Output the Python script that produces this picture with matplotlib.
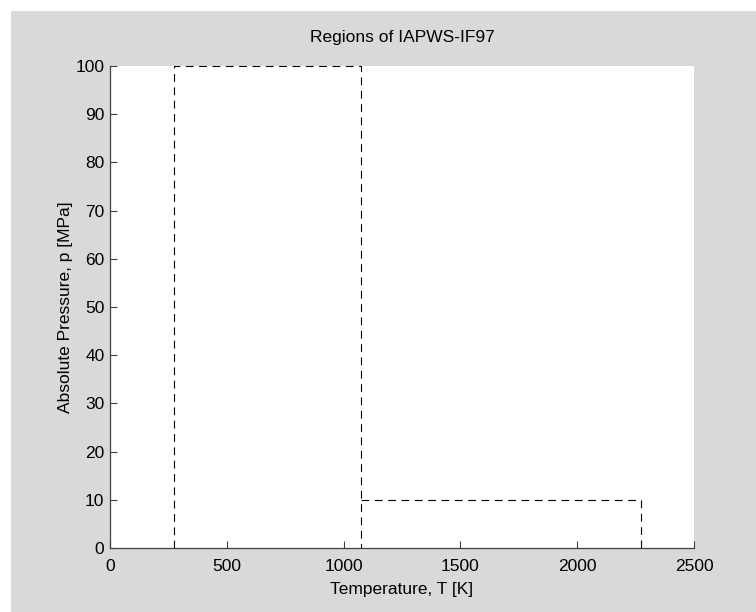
"""
Regions of IAPWS-IF97 drawn in the old MATLAB figure style.

Region boundaries are kept as small lists of temperatures and pressures.
"""

import matplotlib

matplotlib.use("Agg")

import matplotlib.pyplot as plt
from matplotlib.patches import Rectangle

# region 1-3 envelope (273.15 K .. 1073.15 K, up to 100 MPa)
envelope_t_k = [273.15, 273.15, 1073.15, 1073.15]
envelope_p_mpa = [0.0, 100.0, 100.0, 0.0]

# region 5 (1073.15 K .. 2273.15 K, up to 10 MPa)
region5_t_k = [1073.15, 2273.15, 2273.15]
region5_p_mpa = [10.0, 10.0, 0.0]

x_ticks = [0, 500, 1000, 1500, 2000, 2500]
y_ticks = [0, 10, 20, 30, 40, 50, 60, 70, 80, 90, 100]

FIG_W, FIG_H = 756, 612
DPI = 100
BG_GRAY = "#d9d9d9"
AXIS_GRAY = "#404040"

RC_PARAMS = {
    "font.family": ["Liberation Sans", "DejaVu Sans"],
    "font.size": 12.5,
    "axes.spines.top": False,
    "axes.spines.right": False,
    "xtick.direction": "in",
    "ytick.direction": "in",
}


def plot_regions(save_path="out.png"):
    """Draw the region boundaries and save the figure."""
    with plt.rc_context(RC_PARAMS):
        fig = plt.figure(figsize=(FIG_W / DPI, FIG_H / DPI), dpi=DPI)
        fig.patch.set_facecolor("white")
        # gray canvas with the thin white strip on top and left
        fig.patches.append(
            Rectangle(
                (11 / FIG_W, 0.0), 1.0, (FIG_H - 11) / FIG_H,
                transform=fig.transFigure, facecolor=BG_GRAY,
                edgecolor="none", zorder=-10,
            )
        )

        ax = fig.add_axes([110 / FIG_W, 64 / FIG_H, 584 / FIG_W, 482 / FIG_H])
        ax.set_facecolor("white")

        style = dict(color="black", lw=0.8, ls=(0, (7, 5)), clip_on=False)
        ax.plot(envelope_t_k, envelope_p_mpa, **style)
        ax.plot(region5_t_k, region5_p_mpa, **style)

        ax.set_xlim(0, 2500)
        ax.set_ylim(0, 100)
        ax.set_xticks(x_ticks)
        ax.set_yticks(y_ticks)
        ax.tick_params(length=5, width=0.8, color=AXIS_GRAY, labelcolor="black")
        ax.tick_params(axis="x", pad=8)
        ax.tick_params(axis="y", pad=4)
        for side in ("left", "bottom"):
            ax.spines[side].set_color(AXIS_GRAY)
            ax.spines[side].set_linewidth(0.9)

        ax.set_title("Regions of IAPWS-IF97", fontsize=12.5, pad=17)
        ax.set_xlabel("Temperature, T [K]", labelpad=6)
        ax.set_ylabel("Absolute Pressure, p [MPa]", labelpad=2)

        fig.savefig(save_path, dpi=DPI, facecolor=fig.get_facecolor())
    return fig


def main():
    plot_regions("out.png")


if __name__ == "__main__":
    main()
